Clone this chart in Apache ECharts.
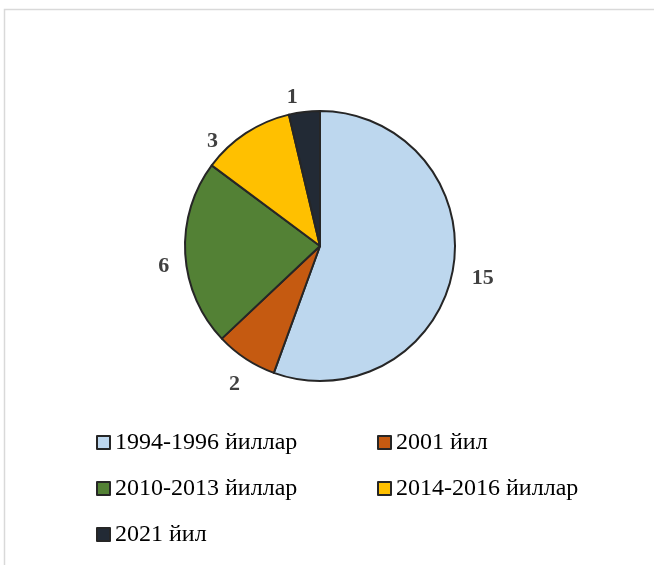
<!DOCTYPE html>
<html>
<head>
<meta charset="utf-8">
<style>
  html, body { margin: 0; padding: 0; background: #fff; }
  #chart { width: 654px; height: 565px; }
</style>
<script src="https://cdn.jsdelivr.net/npm/echarts@6/dist/echarts.min.js"></script>
</head>
<body>
<div id="chart"></div>
<script>
  // periods and number of items
  const categories = ['1994-1996 йиллар', '2001 йил', '2010-2013 йиллар', '2014-2016 йиллар', '2021 йил']
  const values = [15, 2, 6, 3, 1]
  const colors = ['#BDD7EE', '#C55A11', '#538135', '#FFC000', '#222A35']

  const chart = echarts.init(document.getElementById('chart'))

  // small nudges so labels sit like the excel "best fit" ones
  const labelNudge = [[0, 6], [7, 14], [3, 12], [-15, 20], [0, -1]]

  const legendBase = {
    orient: 'vertical',
    icon: 'rect',
    itemWidth: 13,
    itemHeight: 13,
    itemGap: 21,
    selectedMode: false,
    textStyle: {
      fontFamily: 'Liberation Serif',
      fontSize: 24,
      lineHeight: 25,
      color: '#000'
    }
  }

  const option = {
    animation: false,
    backgroundColor: '#fff',
    graphic: [{
      type: 'rect',
      shape: {x: 4.5, y: 9.5, width: 700, height: 600},
      style: {fill: 'none', stroke: '#d9d9d9', lineWidth: 1.5},
      silent: true
    }],
    legend: [
      Object.assign({}, legendBase, {left: 91, top: 425, data: [categories[0], categories[2], categories[4]]}),
      Object.assign({}, legendBase, {left: 372, top: 425, data: [categories[1], categories[3]]})
    ],
    series: [{
      type: 'pie',
      center: [320, 246],
      radius: 135,
      startAngle: 90,
      clockwise: true,
      data: categories.map((name, i) => ({
        name: name,
        value: values[i],
        itemStyle: {color: colors[i]},
        label: {offset: labelNudge[i]}
      })),
      itemStyle: {borderColor: '#262626', borderWidth: 2},
      emphasis: {disabled: true},
      label: {
        show: true,
        position: 'outside',
        formatter: '{c}',
        fontFamily: 'Liberation Serif',
        fontWeight: 'bold',
        fontSize: 22,
        color: '#404040',
        distanceToLabelLine: 5
      },
      labelLine: {show: false, length: 14, length2: 0}
    }]
  }

  chart.setOption(option)
</script>
</body>
</html>
